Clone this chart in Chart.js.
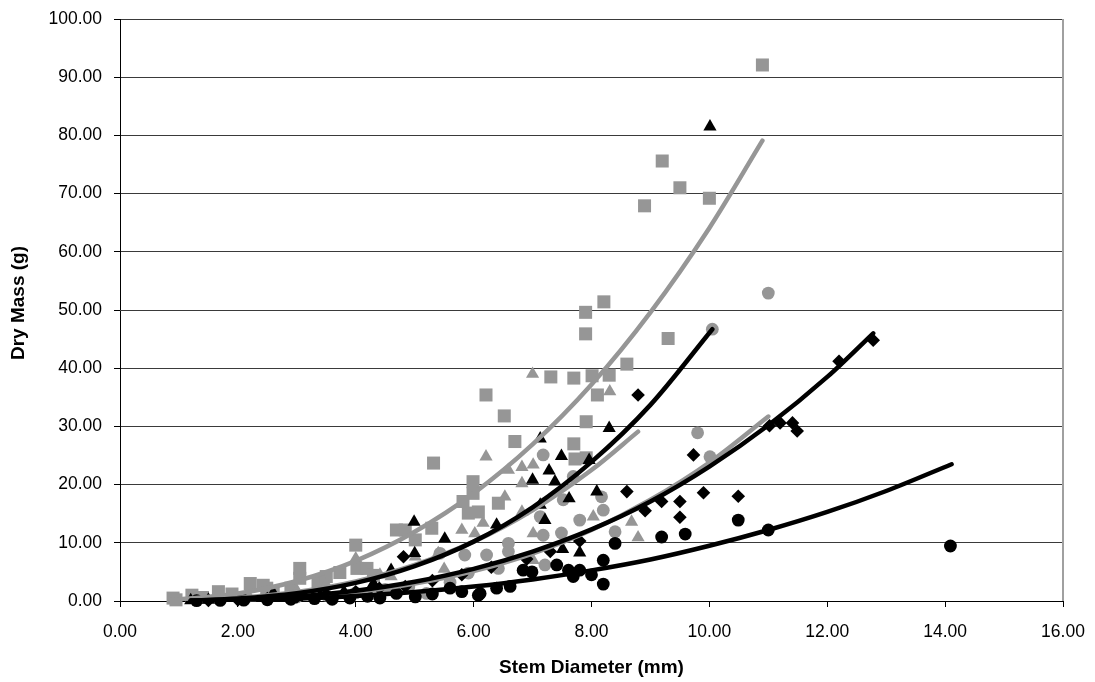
<!DOCTYPE html>
<html><head><meta charset="utf-8">
<script src="https://cdn.jsdelivr.net/npm/chart.js@4"></script>
<style>html,body{margin:0;padding:0;background:#fff}</style>
</head><body>
<canvas id="c" width="1095" height="682"></canvas>
<script>
// ---- data ----
const xTitle = 'Stem Diameter (mm)';
const yTitle = 'Dry Mass (g)';
const xRange = [0, 16], xStep = 2;
const yRange = [0, 100], yStep = 10;

const graySquares = [[0.90,0.5],[0.95,0.2],[1.22,1.0],[1.40,0.6],[1.67,1.6],[1.90,1.2],[2.21,3.0],[2.43,2.7],[2.49,2.2],[2.60,1.6],[2.90,2.2],[3.05,5.6],[3.05,3.9],[3.36,3.3],[3.50,4.2],[3.73,4.9],[4.00,9.6],[4.02,5.6],[4.19,5.6],[4.30,4.4],[4.69,12.2],[4.84,12.2],[5.01,10.5],[5.29,12.5],[5.32,23.7],[5.82,17.1],[5.91,15.1],[5.99,18.5],[5.99,20.5],[6.08,15.3],[6.21,35.4],[6.42,16.8],[6.52,31.8],[6.70,27.4],[7.31,38.5],[7.70,38.3],[7.70,27.0],[7.72,24.4],[7.90,49.6],[7.90,45.9],[7.91,30.8],[7.91,24.6],[8.01,38.7],[8.10,35.4],[8.21,51.4],[8.30,38.8],[8.60,40.7],[8.90,67.9],[9.20,75.6],[9.30,45.1],[9.50,71.0],[10.00,69.2],[10.90,92.1]];
const grayTriangles = [[2.2,0.6],[2.6,1.0],[3.0,1.8],[3.5,2.8],[4.0,7.3],[4.41,4.5],[4.6,4.2],[5.01,7.6],[5.40,8.2],[5.5,5.5],[5.80,12.2],[6.02,11.6],[6.16,13.4],[6.21,24.8],[6.53,17.9],[6.59,22.5],[6.82,23.0],[6.82,20.2],[6.82,15.3],[7.0,39.0],[7.01,23.4],[7.01,11.6],[7.01,7.0],[8.03,14.5],[8.31,36.0],[8.68,13.6],[8.79,10.9]];
const grayCircles = [[2.5,0.5],[3.0,0.7],[3.5,1.0],[4.0,1.4],[4.5,2.0],[4.9,2.4],[5.20,1.3],[5.43,8.2],[5.6,3.2],[5.85,7.9],[5.91,4.8],[6.22,7.9],[6.42,5.6],[6.59,9.9],[6.59,8.5],[7.13,14.5],[7.18,25.1],[7.18,11.3],[7.21,6.2],[7.49,11.7],[7.52,17.4],[7.69,21.4],[7.80,13.9],[8.17,17.9],[8.20,15.6],[8.40,11.9],[9.80,28.9],[10.01,24.8],[10.05,46.7],[11.0,52.9]];
const blackTriangles = [[1.2,0.1],[1.5,0.2],[2.1,0.4],[2.6,1.4],[3.0,0.6],[3.4,1.0],[3.8,1.6],[4.3,3.0],[4.60,5.3],[4.99,13.6],[5.0,8.2],[5.51,10.7],[6.39,13.1],[7.0,20.8],[7.13,27.9],[7.13,16.5],[7.21,13.9],[7.28,22.4],[7.38,20.5],[7.49,24.9],[7.51,8.9],[7.62,17.6],[7.80,8.3],[7.96,24.2],[8.09,18.8],[8.30,29.7],[10.01,81.5]];
const blackDiamonds = [[1.5,0.1],[2.0,0.2],[2.5,0.4],[3.0,0.7],[3.5,1.1],[4.0,1.6],[4.4,2.2],[4.81,7.6],[4.84,2.5],[5.3,3.5],[5.8,4.5],[6.3,5.8],[6.9,7.2],[7.3,8.5],[7.80,10.3],[8.60,18.8],[8.79,35.4],[8.91,15.5],[9.19,17.1],[9.50,17.1],[9.50,14.4],[9.73,25.1],[9.90,18.6],[10.49,18.0],[11.02,30.1],[11.20,30.6],[11.41,30.6],[11.49,29.2],[12.20,41.2],[12.78,44.8]];
const blackCircles = [[1.3,0.05],[1.7,0.1],[2.1,0.15],[2.5,0.2],[2.9,0.3],[3.3,0.4],[3.6,0.3],[3.9,0.5],[4.2,0.8],[4.41,0.5],[4.69,1.3],[5.01,0.7],[5.3,1.2],[5.60,2.2],[5.8,1.6],[6.08,1.0],[6.11,1.3],[6.39,2.2],[6.62,2.5],[6.84,5.3],[6.99,5.0],[7.41,6.2],[7.61,5.3],[7.69,4.2],[7.80,5.3],[8.0,4.5],[8.20,2.9],[8.20,7.0],[8.40,9.9],[9.19,11.0],[9.59,11.5],[10.49,13.9],[11.0,12.2],[14.09,9.45]];

// trend lines at sample diameters
const trendGraySquareX = [0.85,2,3,4,5,6,7,8,9,10,10.9];
const trendGraySquareY = [0.16,1.28,3.43,6.9,11.9,18.5,26.9,37.2,49.6,64.1,79.1];
const trendBlackTriangleX = [1.2,2,3,4,5,6,7,8,9,10.05];
const trendBlackTriangleY = [0.09,0.41,1.34,3.11,5.99,10.2,16.1,23.9,33.7,46.7];
const trendGrayTriangleX = [1.5,2,3,4,5,6,7,8,8.79];
const trendGrayTriangleY = [0.23,0.50,1.53,3.36,6.2,10.2,15.6,22.5,29.1];
const trendGrayCircleX = [2.0,3,4,5,6,7,8,9,10,11];
const trendGrayCircleY = [0.19,0.64,1.52,2.98,5.14,8.16,12.2,17.4,23.8,31.7];
const trendBlackDiamondX = [1.2,2,3,4,5,6,7,8,9,10,11,12,12.78];
const trendBlackDiamondY = [0.06,0.25,0.79,1.77,3.31,5.52,8.49,12.3,17.1,23.1,30.2,38.5,46.0];
const trendBlackCircleX = [1.2,2,3,4,5,6,7,8,9,10,11,12,13,14.11];
const trendBlackCircleY = [0.036,0.14,0.40,0.85,1.53,2.48,3.71,5.26,7.13,9.49,12.2,15.3,18.9,23.5];

// ---- styling ----
const GRAY = '#969696', BLACK = '#000000';
const FONT = '"Liberation Sans", Arial, sans-serif';

const pts = arr => arr.map(p => ({x: p[0], y: p[1]}));
const line = (xs, ys) => xs.map((x, i) => ({x: x, y: ys[i]}));

function markers(label, data, style, r, color, order) {
  return {label, data: pts(data), pointStyle: style, pointRadius: r, pointHoverRadius: r,
    backgroundColor: color, borderColor: color, borderWidth: 0, showLine: false, order, clip: false};
}
function trend(label, xs, ys, color, order) {
  return {label, data: line(xs, ys), showLine: true, pointRadius: 0, borderColor: color,
    borderWidth: 4.5, borderCapStyle: 'round', cubicInterpolationMode: 'monotone', fill: false, order};
}

const plotFrame = {
  id: 'plotFrame',
  beforeDatasetsDraw(chart) {
    const {ctx, chartArea: a} = chart;
    ctx.save();
    ctx.strokeStyle = '#a0a0a0'; ctx.lineWidth = 2;
    ctx.beginPath(); ctx.moveTo(a.right, a.top); ctx.lineTo(a.right, a.bottom); ctx.stroke();
    ctx.restore();
  },
  afterDraw(chart) {
    const {ctx, chartArea: a} = chart;
    ctx.save();
    ctx.font = 'bold 19px ' + FONT;
    ctx.fillStyle = '#000'; ctx.textAlign = 'center'; ctx.textBaseline = 'middle';
    ctx.translate(19, (a.top + a.bottom) / 2 - 7);
    ctx.rotate(-Math.PI / 2);
    ctx.fillText(yTitle, 0, 0);
    ctx.restore();
  }
};

new Chart(document.getElementById('c'), {
  type: 'scatter',
  data: {
    datasets: [
      trend('Trend black circles', trendBlackCircleX, trendBlackCircleY, BLACK, 0),
      trend('Trend black diamonds', trendBlackDiamondX, trendBlackDiamondY, BLACK, 0),
      trend('Trend black triangles', trendBlackTriangleX, trendBlackTriangleY, BLACK, 0),
      trend('Trend gray circles', trendGrayCircleX, trendGrayCircleY, GRAY, 1),
      trend('Trend gray triangles', trendGrayTriangleX, trendGrayTriangleY, GRAY, 1),
      trend('Trend gray squares', trendGraySquareX, trendGraySquareY, GRAY, 1),
      markers('Black circles', blackCircles, 'circle', 6.4, BLACK, 2),
      markers('Black diamonds', blackDiamonds, 'rectRot', 6.8, BLACK, 2),
      markers('Black triangles', blackTriangles, 'triangle', 7.6, BLACK, 2),
      markers('Gray circles', grayCircles, 'circle', 6.4, GRAY, 3),
      markers('Gray triangles', grayTriangles, 'triangle', 7.6, GRAY, 3),
      markers('Gray squares', graySquares, 'rect', 9.2, GRAY, 3)
    ]
  },
  options: {
    responsive: false, animation: false, events: [],
    layout: {padding: {top: 19, right: 32, left: 0, bottom: 0}},
    plugins: {legend: {display: false}, tooltip: {enabled: false}},
    scales: {
      x: {
        type: 'linear', min: xRange[0], max: xRange[1],
        afterFit: s => { s.height = 81; s.paddingLeft = 0; s.paddingRight = 0; },
        ticks: {stepSize: xStep, color: '#000', font: {family: FONT, size: 17.5}, padding: 15,
          maxRotation: 0, callback: v => Number(v).toFixed(2)},
        grid: {drawOnChartArea: false, drawTicks: true, tickLength: 6, tickColor: '#000'},
        border: {color: '#000', width: 1},
        title: {display: true, text: xTitle, color: '#000', font: {family: FONT, size: 19, weight: 'bold'},
          padding: {top: 0, bottom: 3}}
      },
      y: {
        type: 'linear', min: yRange[0], max: yRange[1],
        afterFit: s => { s.width = 120; s.paddingTop = 0; s.paddingBottom = 0; },
        ticks: {stepSize: yStep, color: '#000', font: {family: FONT, size: 17.5}, padding: 12,
          callback: v => Number(v).toFixed(2)},
        grid: {color: '#3a3a3a', lineWidth: 1, drawTicks: true, tickLength: 6, tickColor: '#000'},
        border: {color: '#000', width: 1}
      }
    }
  },
  plugins: [plotFrame]
});
</script>
</body></html>
